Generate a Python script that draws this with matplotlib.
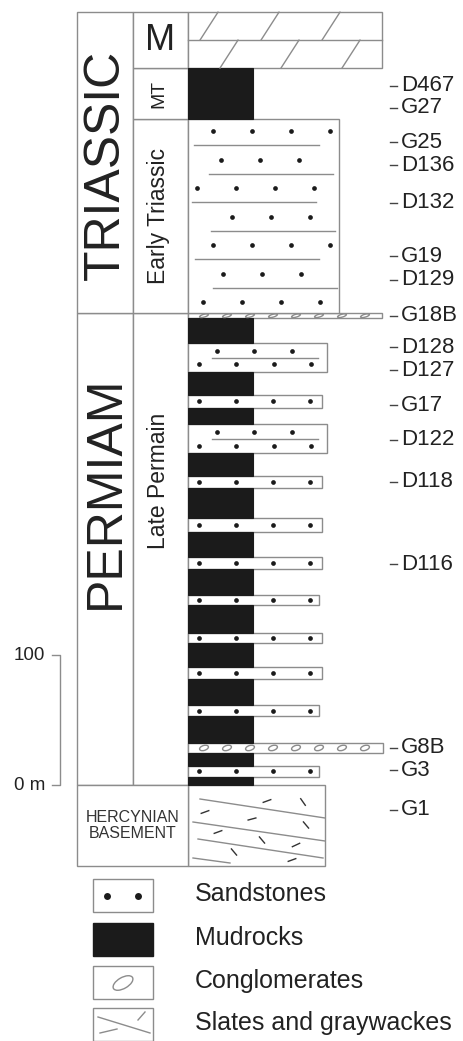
import numpy as np
import matplotlib.pyplot as plt
from matplotlib.patches import Rectangle, Ellipse

plt.rcParams['font.family'] = ['Liberation Sans', 'DejaVu Sans']

# beds, bottom to top (m above the basement), lithology and bed width
bed_base = [0, 6, 15, 25, 32, 53, 61.5, 81.5, 91, 109, 117, 138.5, 146, 166, 175.5,
            194.5, 205.5, 228.5, 237.5, 255.5, 277.5, 290, 300, 318, 340, 359, 363, 512, 551.5]
bed_top = bed_base[1:] + [594.5]
bed_lith = ['mud', 'sand', 'mud', 'cong', 'mud', 'sand', 'mud', 'sand', 'mud', 'sand',
            'mud', 'sand', 'mud', 'sand', 'mud', 'sand', 'mud', 'sand', 'mud', 'sand2',
            'mud', 'sand', 'mud', 'sand2', 'mud', 'cong', 'sandT', 'mud', 'marl']
bed_width = [65, 131, 65, 195, 65, 131, 65, 134, 65, 134, 65, 131, 65, 134, 65,
             134, 65, 134, 65, 139, 65, 134, 65, 139, 65, 194, 151, 65, 194]

basement_base, basement_top, basement_width = -62, 0, 137

period_names = ['PERMIAM', 'TRIASSIC']
period_base = [0, 363]
period_top = [363, 594.5]
period_label_y = [225, 477]

unit_names = ['Late Permain', 'Early Triassic', 'MT', 'M']
unit_base = [0, 363, 512, 551.5]
unit_top = [363, 512, 551.5, 594.5]
unit_label_y = [234, 438, 531.5, 573]

sample_names = ['D467', 'G27', 'G25', 'D136', 'D132', 'G19', 'D129', 'G18B', 'D128', 'D127',
                'G17', 'D122', 'D118', 'D116', 'G8B', 'G3', 'G1']
sample_height = [537.7, 520.8, 494.6, 476.9, 447.7, 406.9, 388.5, 360.8, 336.9, 319.2,
                 292.3, 265.4, 233.1, 170.0, 28.5, 11.5, -19.2]

legend_labels = ['Sandstones', 'Mudrocks', 'Conglomerates', 'Slates and graywackes']

GREY = '#8c8c8c'
BLACK = '#1b1b1b'
TXT = '#222222'
PXM = 1.3          # pixels per metre
X0 = 188           # left edge of lithology column

fig = plt.figure(figsize=(4.64, 10.41), dpi=100)
ax = fig.add_axes([0, 0, 1, 1])
ax.set_xlim(0, 464)
ax.set_ylim(-(1041 - 785) / PXM, 785 / PXM)
ax.axis('off')

ov = fig.add_axes([0, 0, 1, 1], facecolor='none')
ov.set_xlim(0, 464)
ov.set_ylim(1041, 0)
ov.axis('off')


def dots(xs, y):
    ax.plot(xs, [y] * len(xs), 'o', color=BLACK, ms=3.4, mew=0, zorder=4)


# lithology column
for b, t, lith, w in zip(bed_base, bed_top, bed_lith, bed_width):
    h = t - b
    if lith == 'mud':
        ax.add_patch(Rectangle((X0, b), w, h, fc=BLACK, ec=BLACK, lw=0.8, zorder=3))
        continue
    ax.add_patch(Rectangle((X0, b), w, h, fc='white', ec=GREY, lw=1.0, zorder=2))
    if lith == 'sand':
        dots(np.arange(X0 + 11, X0 + w - 8, 37), b + h / 2)
    elif lith == 'sand2':
        dots(np.arange(X0 + 29, X0 + w - 20, 37.5), b + 0.72 * h)
        dots(np.arange(X0 + 11, X0 + w - 8, 37.5), b + 0.25 * h)
        ax.plot([X0 + 24, X0 + 130], [b + 0.48 * h] * 2, color=GREY, lw=1.0, zorder=3)
    elif lith == 'sandT':
        rows = np.linspace(0.94, 0.057, 7)
        offs = [25, 33, 9, 44, 25, 35, 15]
        ns = [4, 3, 4, 3, 4, 3, 4]
        for r, o, n in zip(rows, offs, ns):
            dots(X0 + o + 39 * np.arange(n), b + r * h)
        spans = [(6, 131), (21, 145), (4, 128), (23, 147), (7, 131), (25, 149)]
        for k, (s0, s1) in enumerate(spans):
            yl = b + (rows[k] + rows[k + 1]) / 2 * h
            ax.plot([X0 + s0, X0 + s1], [yl, yl], color=GREY, lw=1.0, zorder=3)
    elif lith == 'cong':
        for xe in np.arange(X0 + 16, X0 + w - 8, 23):
            ax.add_patch(Ellipse((xe, b + h / 2), 9, min(h * 0.55, 4.2), angle=12,
                                 fc='none', ec=GREY, lw=1.0, zorder=3))
    elif lith == 'marl':
        mid = b + h / 2
        ax.plot([X0, X0 + w], [mid, mid], color=GREY, lw=1.0, zorder=3)
        for (yb, yt), off in zip([(b, mid), (mid, t)], [32, 12]):
            for k in range(3):
                xb = X0 + off + 61 * k
                ax.plot([xb, xb + 18], [yb, yt], color=GREY, lw=1.0, zorder=3)

# basement
bh = basement_top - basement_base
ax.add_patch(Rectangle((X0, basement_base), basement_width, bh, fc='white', ec=GREY, lw=1.0, zorder=2))
ax.add_patch(Rectangle((77, basement_base), X0 - 77, bh, fc='white', ec=GREY, lw=1.0, zorder=2))
ax.text(133, basement_base + bh / 2, 'HERCYNIAN\nBASEMENT', ha='center', va='center',
        fontsize=11.5, color='#333333', linespacing=1.05)
for (xa, ya, xb, yb) in [(200, 799, 325, 818), (193, 822, 325, 841), (198, 839, 323, 858), (193, 858, 230, 863)]:
    ov.plot([xa, xb], [ya, yb], color=GREY, lw=1.0, zorder=3)
for (xc, yc, ang) in [(267, 801, 20), (303, 802, -55), (205, 812, 20), (252, 819, 15),
                      (306, 825, -50), (218, 832, 20), (262, 840, -50), (296, 845, 25),
                      (234, 852, -50), (292, 860, 20)]:
    dx, dy = 4 * np.cos(np.radians(ang)), 4 * np.sin(np.radians(ang))
    ov.plot([xc - dx, xc + dx], [yc + dy, yc - dy], color='#333333', lw=1.0, zorder=3)

# period and unit columns
for name, b, t, yl in zip(period_names, period_base, period_top, period_label_y):
    ax.add_patch(Rectangle((77, b), 56, t - b, fc='white', ec=GREY, lw=1.0, zorder=1))
    ax.text(106, yl, name, rotation=90, ha='center', va='center',
            fontsize=36, color=TXT)
for name, b, t, yl in zip(unit_names, unit_base, unit_top, unit_label_y):
    ax.add_patch(Rectangle((133, b), X0 - 133, t - b, fc='white', ec=GREY, lw=1.0, zorder=1))
    if name == 'M':
        ax.text(160, yl, name, ha='center', va='center', fontsize=26, color=TXT)
    elif name == 'MT':
        ax.text(159, yl, name, rotation=90, ha='center', va='center',
                fontsize=14, color=TXT)
    else:
        ax.text(159, yl, name, rotation=90, ha='center', va='center',
                fontsize=16.5, color=TXT)

# sample labels
for name, y in zip(sample_names, sample_height):
    ax.plot([390, 397], [y, y], color='#444444', lw=1.0)
    ax.text(401, y, name, ha='left', va='center', fontsize=16, color=TXT)

# scale bar
ax.plot([52, 60, 60, 52], [100, 100, 0, 0], color=GREY, lw=1.0)
ax.text(45, 100, '100', ha='right', va='center', fontsize=13.5, color=TXT)
ax.text(45, 0, '0 m', ha='right', va='center', fontsize=13.5, color=TXT)

# legend
box_top = [879, 923, 966, 1008]
for k, (lab, yt) in enumerate(zip(legend_labels, box_top)):
    fc = BLACK if k == 1 else 'white'
    ec = BLACK if k == 1 else GREY
    ov.add_patch(Rectangle((93, yt), 60, 33, fc=fc, ec=ec, lw=1.0))
    ov.text(195, yt + 15, lab, ha='left', va='center', fontsize=18, color=TXT)
ov.plot([107, 138], [896, 896], 'o', color=BLACK, ms=5, mew=0)
ov.add_patch(Ellipse((123, 983), 22, 11, angle=-30, fc='none', ec=GREY, lw=1.0))
ov.plot([98, 150], [1017, 1033], color=GREY, lw=1.0)
ov.plot([100, 117], [1033, 1029], color=GREY, lw=1.0)
ov.plot([138, 145], [1020, 1012], color=GREY, lw=1.0)

fig.savefig('out.png', dpi=100)
